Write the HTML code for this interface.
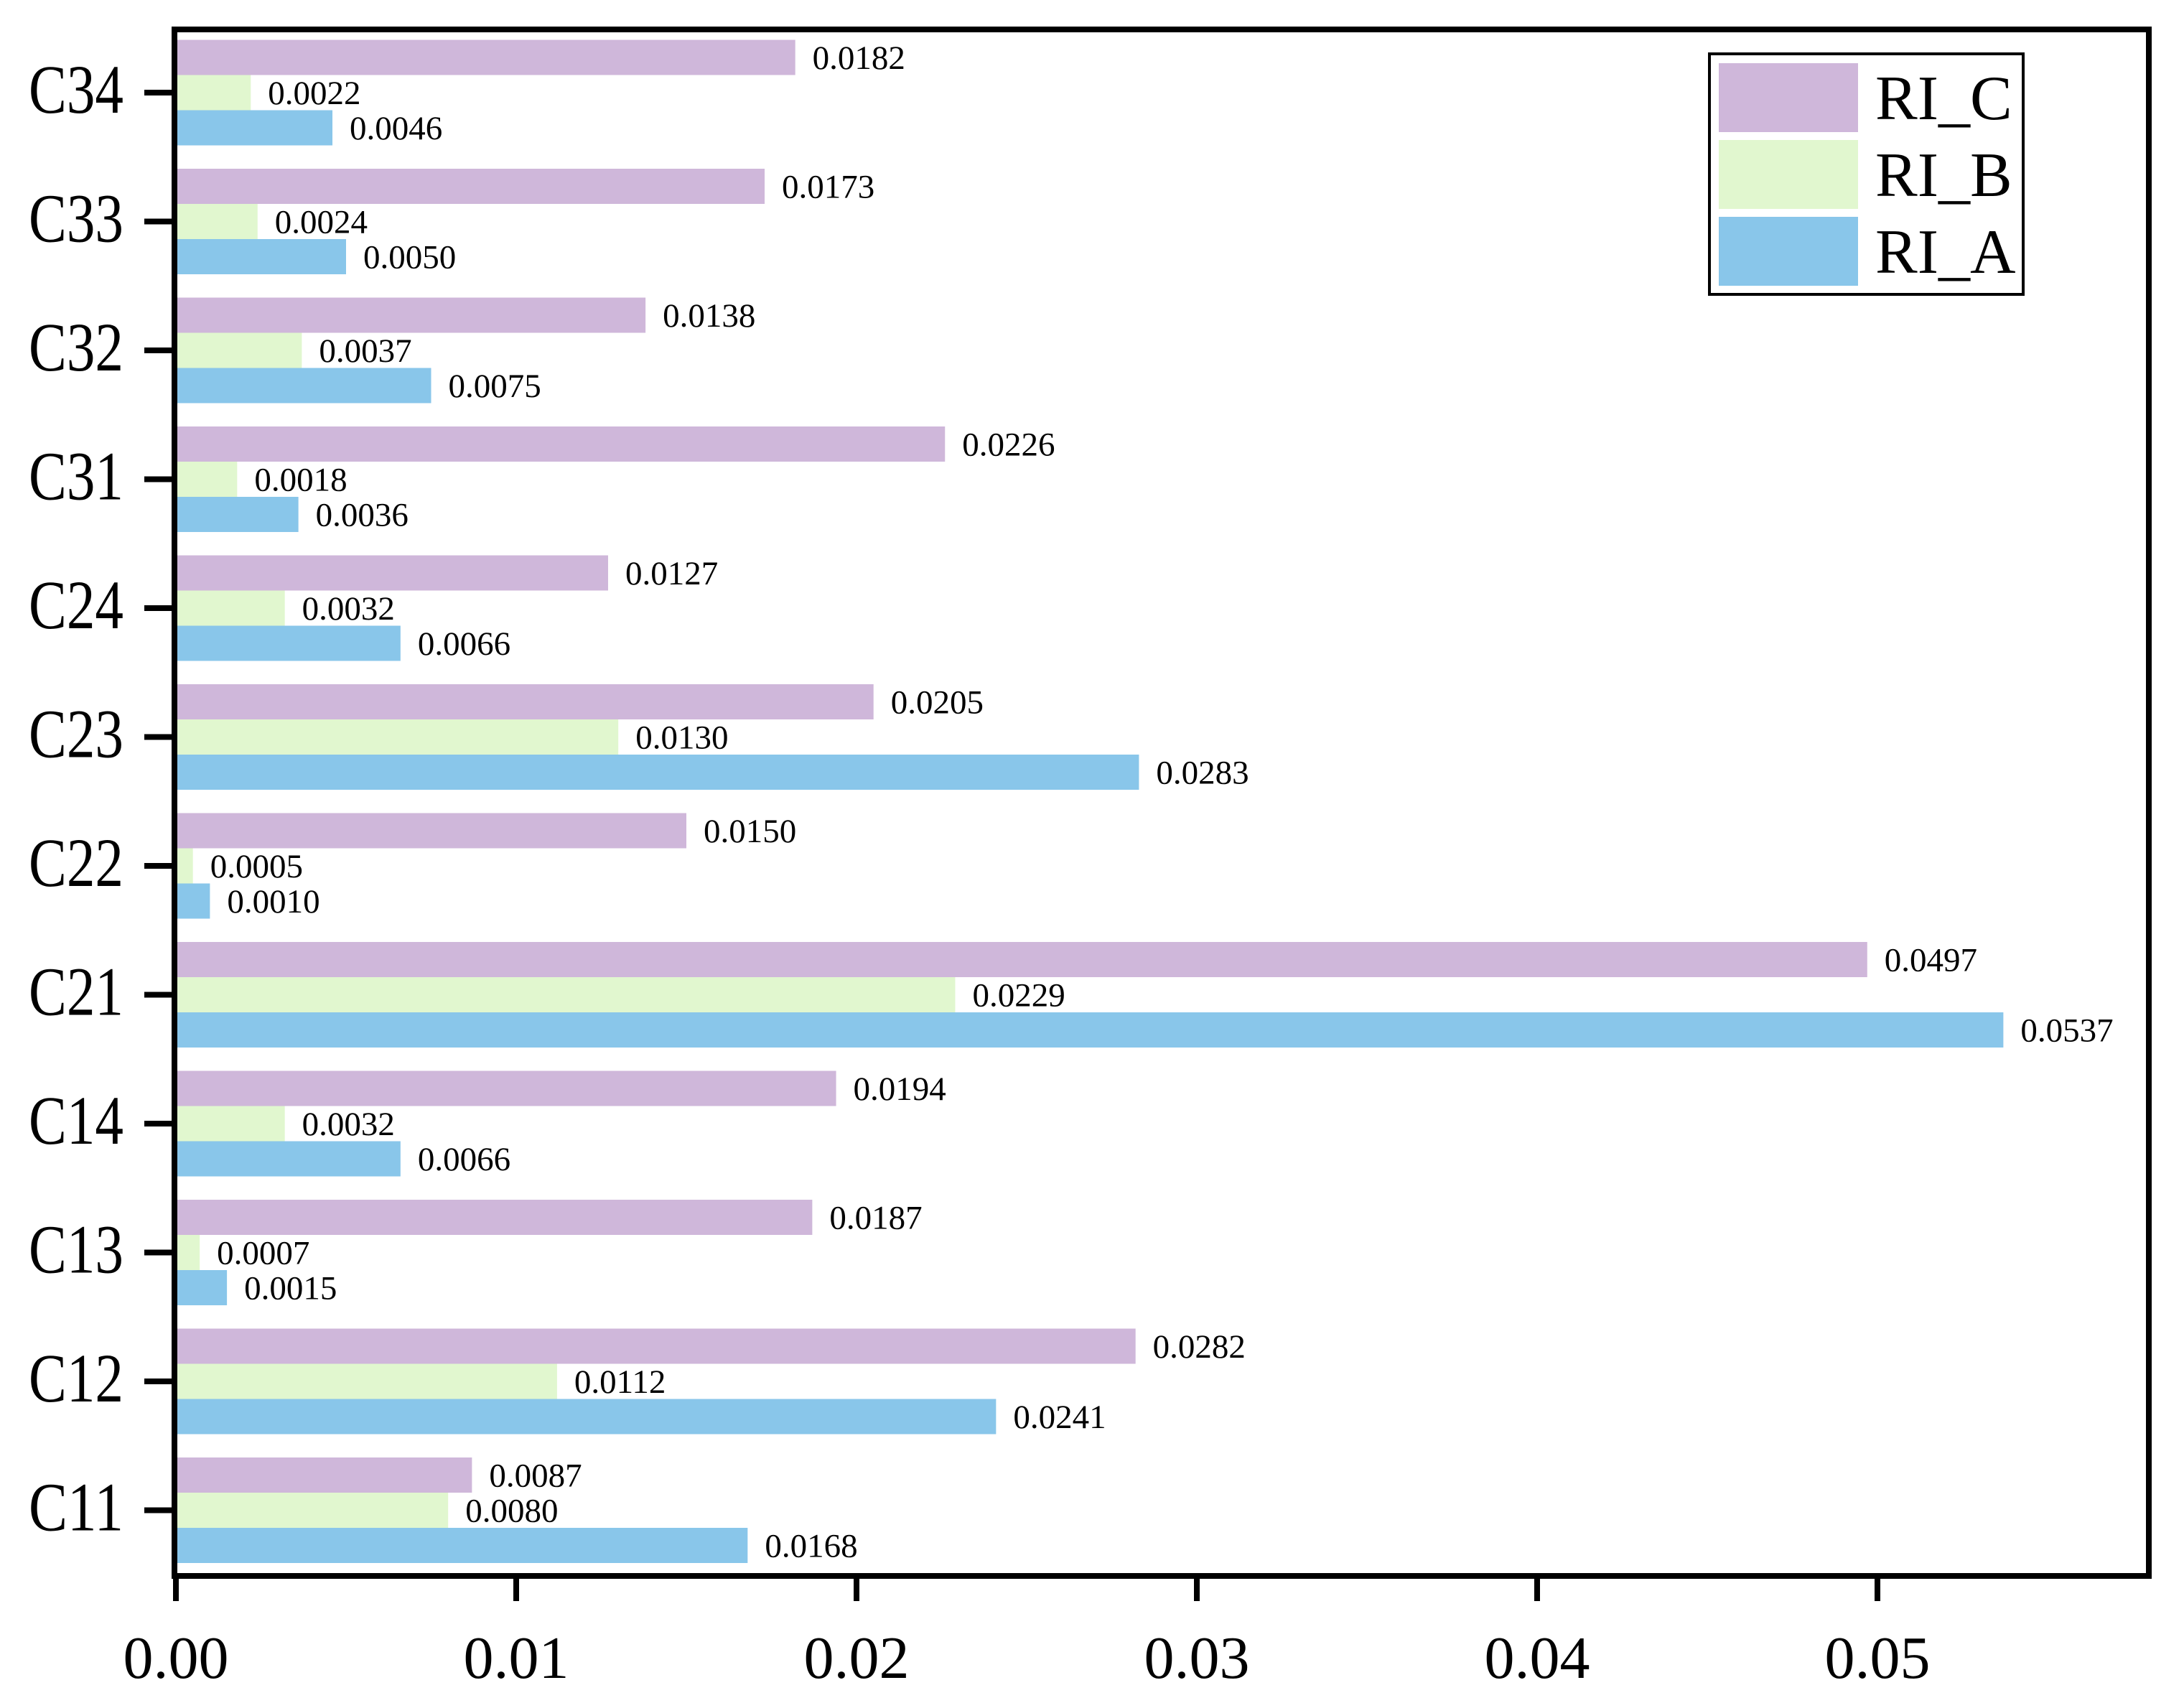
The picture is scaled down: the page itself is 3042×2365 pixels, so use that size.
<!DOCTYPE html>
<html><head><meta charset="utf-8"><style>
html,body{margin:0;padding:0;background:#fff;}
svg{display:block;font-family:"Liberation Serif","Times New Roman",serif;}
</style></head><body>
<svg id="chart" width="3042" height="2365" viewBox="0 0 3042 2365" xmlns="http://www.w3.org/2000/svg"></svg>
<script>
const categories = ["C34","C33","C32","C31","C24","C23","C22","C21","C14","C13","C12","C11"];
const riC = [0.0182,0.0173,0.0138,0.0226,0.0127,0.0205,0.0150,0.0497,0.0194,0.0187,0.0282,0.0087];
const riB = [0.0022,0.0024,0.0037,0.0018,0.0032,0.0130,0.0005,0.0229,0.0032,0.0007,0.0112,0.0080];
const riA = [0.0046,0.0050,0.0075,0.0036,0.0066,0.0283,0.0010,0.0537,0.0066,0.0015,0.0241,0.0168];
const xTicks = [0,0.01,0.02,0.03,0.04,0.05];
const xTickLabels = ["0.00","0.01","0.02","0.03","0.04","0.05"];
const seriesNames = ["RI_C","RI_B","RI_A"];

const NS="http://www.w3.org/2000/svg";
const svg=document.getElementById('chart');
const L=243, R=2993, T=41, B=2195;
const x0=245, perUnit=47400;
const y0=129, step=179.5, bh=49;
const colors=["#CFB7DA","#E1F7CF","#89C6EA"];
function xs(v){return x0+v*perUnit;}
function ys(i){return y0+i*step;}
function mk(tag,attrs){const e=document.createElementNS(NS,tag);for(const k in attrs)e.setAttribute(k,attrs[k]);svg.appendChild(e);return e;}

const series=[riC,riB,riA];
series.forEach((arr,s)=>{
  arr.forEach((v,i)=>{
    const yTop=ys(i)-1.5*bh+s*bh;
    const r=mk('rect',{x:x0,y:yTop,width:xs(v)-x0,height:bh,fill:colors[s]});
    
    
    const t=mk('text',{x:xs(v)+24,y:yTop+bh/2+16,'font-size':47,fill:'#000'});
    t.textContent=v.toFixed(4);
    
    
  });
});

const frame=mk('rect',{x:L,y:T,width:R-L,height:B-T,fill:'none',stroke:'#000','stroke-width':8});



categories.forEach((c,i)=>{
  const tk=mk('line',{x1:201,x2:L,y1:ys(i),y2:ys(i),stroke:'#000','stroke-width':8});
  
  
  const t=mk('text',{x:172,y:ys(i)+28,'font-size':96,'text-anchor':'end',fill:'#000',textLength:132,lengthAdjust:'spacingAndGlyphs'});
  t.textContent=c;
  
  
});
xTicks.forEach((v,i)=>{
  const tk=mk('line',{x1:xs(v),x2:xs(v),y1:B,y2:2230,stroke:'#000','stroke-width':8});
  
  
  const t=mk('text',{x:xs(v),y:2337,'font-size':84,'text-anchor':'middle',fill:'#000'});
  t.textContent=xTickLabels[i];
  
  
});

const lg=mk('rect',{x:2381,y:75,width:437,height:335,fill:'#fff',stroke:'#000','stroke-width':4});


seriesNames.forEach((n,s)=>{
  const yy=88+s*107;
  const sw=mk('rect',{x:2394,y:yy,width:194,height:96,fill:colors[s]});
  
  
  const t=mk('text',{x:2612,y:yy+78,'font-size':88,fill:'#000'});
  t.textContent=n;
  
  
});
</script>
</body></html>
